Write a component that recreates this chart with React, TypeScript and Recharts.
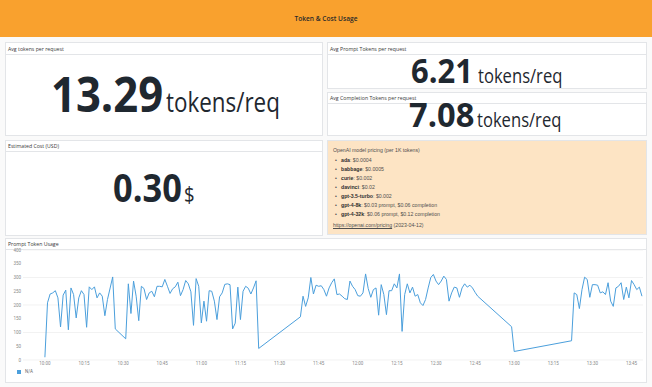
import React from 'react';
import { LineChart, Line, XAxis, YAxis, CartesianGrid, Legend } from 'recharts';

// minutes after 10:00 for each sample, and the prompt tokens of that sample
const MINUTES = [
  0, 1, 2, 3, 4, 5, 6, 7, 8, 9, 10, 11, 12, 13, 14, 15, 16, 17, 18, 19, 20, 21, 22, 23, 24, 26, 27,
  31, 32, 33, 34, 35, 36, 37, 38, 39, 40, 41, 42, 43, 44, 45, 46, 47, 48, 49, 50, 51, 52, 53, 54,
  55, 56, 57, 58, 59, 60, 61, 62, 63, 64, 65, 66, 67, 68, 69, 70, 71, 72, 73, 74, 75, 76, 77, 78,
  79, 80, 81, 82,
  98, 99, 100, 101, 102, 103, 104, 105, 106, 107, 108, 109, 110, 111, 112, 113, 114, 115, 116, 117,
  118, 119, 120, 121, 122, 123, 124, 125, 126, 127, 128, 129, 130, 131, 132, 133, 134, 135, 136,
  137, 138, 139, 140, 141, 142, 143, 144, 145, 146, 147, 148, 149, 150, 151, 152, 153, 154, 155,
  156, 157, 158, 159, 160, 161, 162, 163, 164, 165, 166,
  179, 180, 202,
  203, 204, 205, 206, 207, 208, 209, 210, 211, 212, 213, 214, 215, 216, 217, 218, 219, 220, 221,
  222, 223, 224, 225, 226, 227, 228, 229,
];

const PROMPT_TOKENS = [
  10, 208, 240, 244, 252, 226, 120, 236, 254, 110, 262, 238, 153, 226, 252, 238, 119, 266, 256, 266, 226, 244, 232, 161, 220, 302, 113,
  77, 277, 169, 287, 232, 143, 268, 260, 220, 244, 250, 230, 268, 268, 266, 293, 268, 242, 259, 266, 283, 234, 256, 289,
  277, 248, 126, 296, 268, 135, 214, 141, 252, 250, 214, 147, 230, 244, 275, 277, 274, 113, 134, 265, 147, 250, 268, 261,
  240, 262, 288, 42,
  157, 232, 195, 226, 300, 240, 272, 268, 270, 256, 232, 262, 281, 295, 238, 240, 232, 223, 220, 287,
  268, 256, 234, 232, 244, 313, 260, 228, 256, 262, 163, 274, 238, 165, 252, 252, 277, 262, 313,
  104, 238, 277, 244, 265, 232, 238, 208, 198, 220, 262, 300, 311, 287, 274, 287, 305, 293, 214,
  244, 265, 262, 228, 262, 277, 265, 272, 262, 246, 232,
  121, 31, 70,
  244, 238, 187, 256, 301, 293, 228, 274, 274, 272, 244, 248, 238, 281, 214, 195, 262, 268, 281,
  220, 265, 226, 289, 274, 256, 265, 232,
];

const Y_TICKS = [0, 50, 100, 150, 200, 250, 300, 350, 400];
const X_TICKS = [0, 15, 30, 45, 60, 75, 90, 105, 120, 135, 150, 165, 180, 195, 210, 225];

const PRICING_MODELS = ['ada', 'babbage', 'curie', 'davinci', 'gpt-3.5-turbo', 'gpt-4-8k', 'gpt-4-32k'];
const PRICING_RATES = [
  '$0.0004',
  '$0.0005',
  '$0.002',
  '$0.02',
  '$0.002',
  '$0.03 prompt, $0.06 completion',
  '$0.06 prompt, $0.12 completion',
];

const data = MINUTES.map((t, i) => ({ t, v: PROMPT_TOKENS[i] }));

const fmtTime = (m: number) => {
  const h = 10 + Math.floor(m / 60);
  const mm = m % 60;
  return `${h}:${mm < 10 ? '0' + mm : mm}`;
};

const BORDER = '#e3e5e8';
const INK = '#1f2830';

const Panel = ({ left, top, width, height, title, bar = 11, bg = '#fff' }: any) => (
  <div style={{ position: 'absolute', left, top, width, height, background: bg, border: `1px solid ${BORDER}`, boxSizing: 'border-box' }}>
    {title && (
      <div style={{ height: bar, borderBottom: `1px solid ${BORDER}`, boxSizing: 'border-box', fontSize: 5.2, lineHeight: `${bar}px`, paddingLeft: 2, color: '#3a3a3a', fontFamily: '"Open Sans", sans-serif' }}>
        {title}
      </div>
    )}
  </div>
);

// squeeze text horizontally into a fixed width box (the screenshot is narrower than it is tall)
const Squeeze = ({ w, s, size, weight, children }: any) => (
  <span style={{ display: 'inline-block', width: w, whiteSpace: 'nowrap', fontSize: size, fontWeight: weight, lineHeight: 1 }}>
    <span style={{ display: 'inline-block', transform: `scaleX(${s})`, transformOrigin: 'left center' }}>{children}</span>
  </span>
);

const BigStat = ({ left, baseline, value, unit, vSize, vW, vS, uSize, uW, uS, gap }: any) => (
  <div style={{ position: 'absolute', left, top: baseline - 0.888 * vSize, display: 'flex', alignItems: 'baseline', color: INK, fontFamily: '"Open Sans", sans-serif' }}>
    <Squeeze w={vW} s={vS} size={vSize} weight={700}>{value}</Squeeze>
    <span style={{ width: gap }} />
    <Squeeze w={uW} s={uS} size={uSize} weight={400}>{unit}</Squeeze>
  </div>
);

export default function App() {
  return (
    <div style={{ position: 'relative', width: 652, height: 387, background: '#fafafa', overflow: 'hidden', fontFamily: '"Open Sans", sans-serif' }}>
      <style>{'body{margin:0}'}</style>
      <div style={{ position: 'absolute', left: 0, top: 0, width: 652, height: 37, background: '#f9a12e', display: 'flex', alignItems: 'center', justifyContent: 'center', fontSize: 6.6, fontWeight: 600, color: '#2a2a2a' }}>
        Token &amp; Cost Usage
      </div>

      <Panel left={5} top={42} width={318} height={94} title="Avg tokens per request" bar={12} />
      <BigStat left={51} baseline={113} value="13.29" unit="tokens/req" vSize={49} vW={112} vS={0.89} uSize={28} uW={114} uS={0.8} gap={3} />

      <Panel left={327} top={42} width={320} height={47} title="Avg Prompt Tokens per request" bar={12} />
      <BigStat left={411} baseline={83} value="6.21" unit="tokens/req" vSize={34} vW={62} vS={0.91} uSize={20} uW={85} uS={0.83} gap={5} />

      <Panel left={327} top={92} width={320} height={44} title="Avg Completion Tokens per request" bar={11} />
      <BigStat left={409} baseline={127} value="7.08" unit="tokens/req" vSize={34} vW={66} vS={0.96} uSize={20} uW={85} uS={0.83} gap={2} />

      <Panel left={5} top={140} width={318} height={96} title="Estimated Cost (USD)" bar={11} />
      <BigStat left={113} baseline={203} value="0.30" unit="$" vSize={40} vW={69} vS={0.86} uSize={21} uW={11} uS={0.88} gap={2} />

      <Panel left={327} top={140} width={320} height={95} bg="#fde4c4" />
      <div style={{ position: 'absolute', left: 333, top: 146, fontFamily: '"Liberation Sans", Arial, sans-serif', fontSize: 5.2, color: '#4f4f4f', lineHeight: '9px' }}>
        <div style={{ height: 10 }}>OpenAI model pricing (per 1K tokens)</div>
        {PRICING_MODELS.map((m, i) => (
          <div key={m} style={{ height: 9, position: 'relative' }}>
            <span style={{ position: 'absolute', left: 2 }}>•</span>
            <span style={{ position: 'absolute', left: 8, whiteSpace: 'nowrap' }}>
              <b style={{ color: '#2e2e2e' }}>{m}</b>: {PRICING_RATES[i]}
            </span>
          </div>
        ))}
        <div style={{ marginTop: 2 }}>
          <span style={{ textDecoration: 'underline' }}>https://openai.com/pricing</span> (2023-04-12)
        </div>
      </div>

      <Panel left={5} top={238} width={642} height={145} title="Prompt Token Usage" bar={11} />
      <div style={{ position: 'absolute', left: 5, top: 238 }}>
        <LineChart width={642} height={145} data={data} margin={{ top: 12, right: 4, bottom: 15, left: 0 }}>
          <CartesianGrid vertical={false} stroke="#ececec" strokeWidth={0.7} />
          <XAxis
            dataKey="t"
            type="number"
            domain={[-8.4, 229.4]}
            allowDataOverflow
            ticks={X_TICKS}
            tickFormatter={fmtTime}
            axisLine={false}
            tickLine={false}
            tickSize={1}
            tickMargin={1}
            height={8}
            tick={{ fontSize: 4.5, fill: '#8a8a8a', fontFamily: 'Roboto, sans-serif' }}
          />
          <YAxis
            domain={[0, 400]}
            ticks={Y_TICKS}
            width={18}
            axisLine={false}
            tickLine={false}
            tickSize={1}
            tickMargin={1}
            tick={{ fontSize: 4.5, fill: '#8a8a8a', fontFamily: 'Roboto, sans-serif' }}
          />
          <Legend
            layout="horizontal"
            verticalAlign="middle"
            align="center"
            iconType="square"
            iconSize={4}
            wrapperStyle={{ top: 131, left: 12, width: 'auto', fontSize: 4.5, fontFamily: 'Roboto, sans-serif', lineHeight: '6px' }}
            formatter={(value: string) => <span style={{ color: '#6a6a6a' }}>{value}</span>}
          />
          <Line
            type="linear"
            dataKey="v"
            name="N/A"
            stroke="#4b9fdc"
            strokeWidth={1}
            dot={false}
            isAnimationActive={false}
          />
        </LineChart>
      </div>
    </div>
  );
}
